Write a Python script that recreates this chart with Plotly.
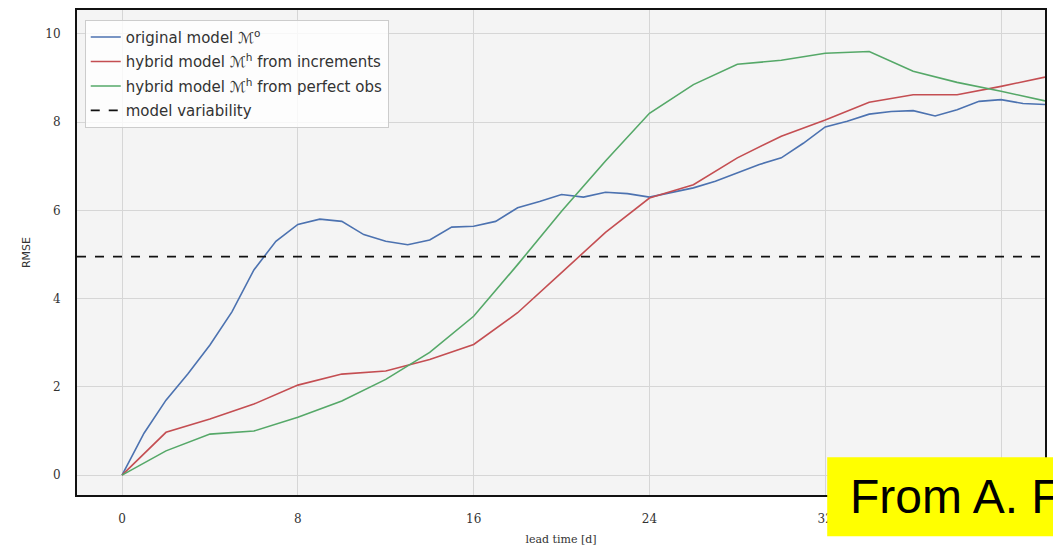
import plotly.graph_objects as go

# ---- data ----
days_blue = list(range(0, 43))
rmse_original = [0.0, 0.95, 1.7, 2.3, 2.95, 3.7, 4.65, 5.3, 5.68, 5.8, 5.75, 5.45, 5.3, 5.22, 5.33,
                 5.62, 5.64, 5.75, 6.06, 6.2, 6.36, 6.3, 6.41, 6.38, 6.3, 6.4, 6.51, 6.66, 6.85,
                 7.04, 7.19, 7.52, 7.89, 8.02, 8.18, 8.24, 8.26, 8.14, 8.28, 8.47, 8.51, 8.42, 8.4]
days_hybrid = list(range(0, 43, 2))
rmse_increments = [0.0, 0.97, 1.27, 1.61, 2.04, 2.29, 2.36, 2.62, 2.96, 3.68, 4.59, 5.5, 6.28,
                   6.58, 7.19, 7.68, 8.05, 8.45, 8.62, 8.62, 8.81, 9.02]
rmse_perfect = [0.0, 0.55, 0.93, 1.0, 1.31, 1.68, 2.17, 2.78, 3.6, 4.77, 5.98, 7.12, 8.2,
                8.85, 9.31, 9.4, 9.56, 9.6, 9.15, 8.9, 8.7, 8.48]
model_variability = 4.95

x_range = [-2.05, 42.0]
y_range = [-0.45, 10.54]
x_ticks = [0, 8, 16, 24, 32, 40]
y_ticks = [0, 2, 4, 6, 8, 10]

names = ["original model ℳ<sup>o</sup>",
         "hybrid model ℳ<sup>h</sup> from increments",
         "hybrid model ℳ<sup>h</sup> from perfect obs",
         "model variability"]
colors = ["#4c72b0", "#c44e52", "#55a868", "#111111"]

fig = go.Figure()
fig.add_trace(go.Scatter(x=days_blue, y=rmse_original, mode="lines", name=names[0], legendgroup="a",
                         line=dict(color=colors[0], width=1.6)))
fig.add_trace(go.Scatter(x=days_hybrid, y=rmse_increments, mode="lines", name=names[1], legendgroup="b",
                         line=dict(color=colors[1], width=1.6)))
fig.add_trace(go.Scatter(x=days_hybrid, y=rmse_perfect, mode="lines", name=names[2], legendgroup="c",
                         line=dict(color=colors[2], width=1.6)))
fig.add_trace(go.Scatter(x=x_range, y=[model_variability, model_variability], mode="lines",
                         name=names[3], legendgroup="d",
                         line=dict(color=colors[3], width=1.8, dash="dash")))

tick_font = dict(family="DejaVu Serif", size=12, color="#333333")
fig.update_layout(
    width=1053, height=550,
    margin=dict(l=77, r=6, t=10, b=54),
    paper_bgcolor="white",
    plot_bgcolor="#f4f4f4",
    showlegend=True,
    legend=dict(x=0.008, y=0.98, xanchor="left", yanchor="top",
                bgcolor="rgba(255,255,255,0.8)", bordercolor="#cccccc", borderwidth=1,
                font=dict(family="DejaVu Sans", size=15, color="#333333"),
                traceorder="grouped", tracegroupgap=2),
    xaxis=dict(range=x_range, tickvals=x_ticks, showgrid=True, gridcolor="#d6d6d6", gridwidth=1.2,
               zeroline=False, showline=True, linecolor="#111111", linewidth=2, mirror=True,
               ticks="", tickfont=tick_font, ticklabelstandoff=12,
               title=dict(text="lead time [d]", font=dict(family="DejaVu Serif", size=11, color="#333333"),
                          standoff=10)),
    yaxis=dict(range=y_range, tickvals=y_ticks, showgrid=True, gridcolor="#d6d6d6", gridwidth=1.2,
               zeroline=False, showline=True, linecolor="#111111", linewidth=2, mirror=True,
               ticks="", tickfont=tick_font, ticklabelstandoff=12,
               title=dict(text="RMSE", font=dict(family="DejaVu Sans", size=11, color="#333333"),
                          standoff=12)),
    shapes=[dict(type="rect", xref="paper", yref="paper", x0=0.775, x1=1.01, y0=-0.085, y1=0.078,
                 fillcolor="#ffff00", line=dict(width=0), layer="above")],
    annotations=[dict(text="From A. F", xref="paper", yref="paper", x=0.797, y=-0.003,
                      xanchor="left", yanchor="middle", showarrow=False,
                      font=dict(family="Liberation Sans", size=48, color="black"))],
)

fig.write_html("out.html")
